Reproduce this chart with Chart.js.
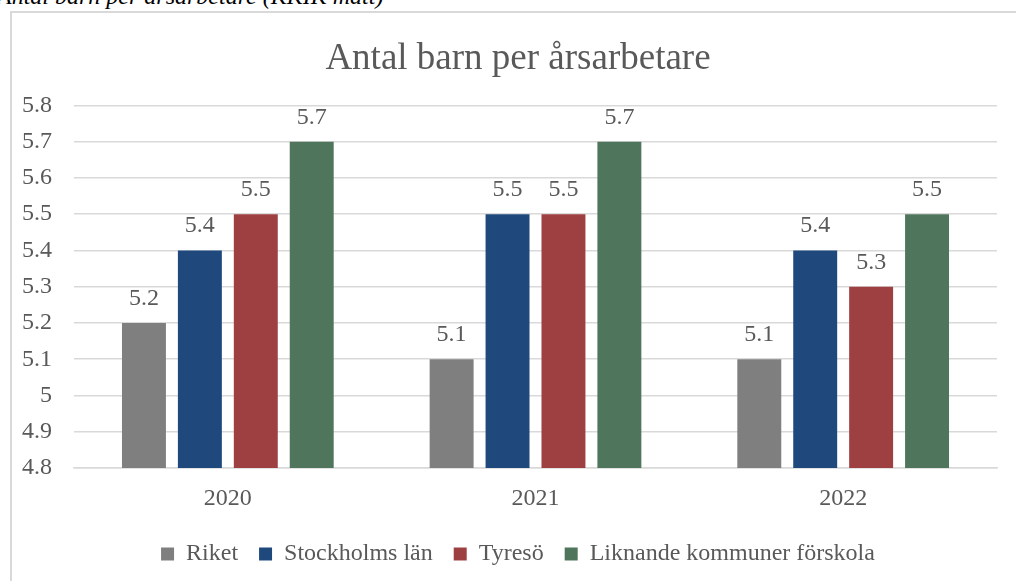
<!DOCTYPE html>
<html>
<head>
<meta charset="utf-8">
<script src="https://cdn.jsdelivr.net/npm/chart.js@4"></script>
<style>
  html, body { margin: 0; padding: 0; background: #fff; overflow: hidden; }
  body { width: 1016px; height: 581px; position: relative; }
  #caption {
    position: absolute; left: -3px; top: -16px;
    font: italic 24px/24px "Liberation Serif", serif; color: #000; white-space: nowrap;
  }
  #box {
    position: absolute; left: 10px; top: 11px; width: 1020px; height: 600px;
    border: 2px solid #d9d9d9; box-sizing: border-box;
  }
  #chart { position: absolute; left: 12px; top: 13px; }
</style>
</head>
<body>
<div id="caption">Antal barn per årsarbetare (KKIK mått)</div>
<div id="box"></div>
<canvas id="chart" width="1012" height="568"></canvas>
<script>
const years = ["2020", "2021", "2022"];
const seriesNames = ["Riket", "Stockholms län", "Tyresö", "Liknande kommuner förskola"];
const riket = [5.2, 5.1, 5.1];
const stockholm = [5.4, 5.5, 5.4];
const tyreso = [5.5, 5.5, 5.3];
const liknande = [5.7, 5.7, 5.5];
const yTicks = [4.8, 4.9, 5, 5.1, 5.2, 5.3, 5.4, 5.5, 5.6, 5.7, 5.8];
const colors = ["#7f7f7f", "#1f497d", "#9e4042", "#4f765c"];

const textColor = "#595959";
const serif = "'Liberation Serif', 'Times New Roman', serif";

// value labels above the bars
const valueLabels = {
  id: "valueLabels",
  afterDatasetsDraw(chart) {
    const ctx = chart.ctx;
    ctx.save();
    ctx.font = "24px " + serif;
    ctx.fillStyle = textColor;
    ctx.textAlign = "center";
    ctx.textBaseline = "alphabetic";
    chart.data.datasets.forEach((ds, i) => {
      chart.getDatasetMeta(i).data.forEach((bar, j) => {
        ctx.fillText(ds.data[j].toFixed(1), bar.x, bar.y - 18);
      });
    });
    ctx.restore();
  }
};

const allSeries = [riket, stockholm, tyreso, liknande];

new Chart(document.getElementById("chart"), {
  type: "bar",
  data: {
    labels: years,
    datasets: allSeries.map((d, i) => ({
      label: seriesNames[i],
      data: d,
      backgroundColor: colors[i],
      borderWidth: 0,
      categoryPercentage: 0.727,
      barPercentage: 0.786
    }))
  },
  options: {
    responsive: false,
    animation: false,
    layout: { padding: { left: 0, right: 0, top: 0, bottom: 5 } },
    plugins: {
      tooltip: { enabled: false },
      title: {
        display: true,
        text: "Antal barn per årsarbetare",
        color: textColor,
        font: { family: serif, size: 37, weight: "normal" },
        padding: { top: 24, bottom: 24 }
      },
      legend: {
        position: "bottom",
        labels: {
          color: textColor,
          font: { family: serif, size: 24 },
          boxWidth: 13,
          boxHeight: 13,
          padding: 21
        }
      }
    },
    scales: {
      x: {
        grid: { display: false, drawTicks: false },
        border: { color: "#d9d9d9", width: 1.5 },
        ticks: { color: textColor, font: { family: serif, size: 24 }, padding: 16 },
        afterFit: (s) => { s.height = 53; }
      },
      y: {
        min: 4.8,
        max: 5.8,
        grid: { color: "#d9d9d9", lineWidth: 1.5, drawTicks: false },
        border: { display: false },
        ticks: {
          color: textColor,
          font: { family: serif, size: 24 },
          padding: 22,
          callback: (v) => String(+v.toFixed(1))
        },
        afterBuildTicks: (s) => { s.ticks = yTicks.map(v => ({ value: v })); },
        afterFit: (s) => { s.width = 62; }
      },
      // empty right-hand margin so the title stays centred on the canvas
      right: {
        position: "right",
        grid: { display: false, drawTicks: false },
        border: { display: false },
        ticks: { display: false },
        afterFit: (s) => { s.width = 27; }
      }
    }
  },
  plugins: [valueLabels]
});
</script>
</body>
</html>
